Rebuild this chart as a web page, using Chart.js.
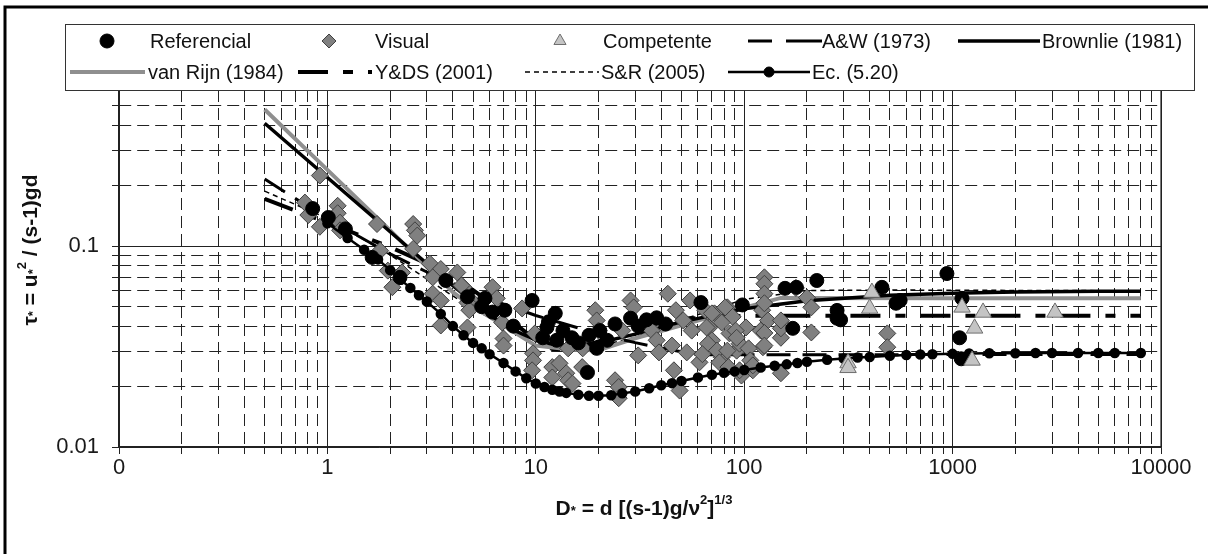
<!DOCTYPE html>
<html>
<head>
<meta charset="utf-8">
<script src="https://cdn.jsdelivr.net/npm/chart.js@4.4.1/dist/chart.umd.min.js"></script>
<style>
  body { margin: 0; background: #fff; }
  canvas { display: block; }
</style>
</head>
<body>
<canvas id="grafico" width="1208" height="554"></canvas>
<script>
// ejes
const xDecades = [0.1, 1, 10, 100, 1000, 10000];
const xDecadeLabels = ["0", "1", "10", "100", "1000", "10000"];
const yDecades = [0.01, 0.1];
const yDecadeLabels = ["0.01", "0.1"];

// Referencial (circulos negros)
const refX = [0.85, 1.01, 1.22, 1.64, 2.23, 3.7, 4.7, 5.5, 5.7, 6.2, 7.1, 7.8, 9.6, 10.8, 11.3, 12.4,
  12.6, 13.5, 14.9, 17.7, 19.6, 20.3, 24, 28.5, 34, 38, 62, 98, 157, 178, 171, 223, 279, 279, 290,
  458, 535, 560, 939, 1109, 1080, 1100, 11.5, 16, 18, 22, 31, 42];
const refY = [0.154, 0.139, 0.122, 0.088, 0.070, 0.0675, 0.056, 0.050, 0.055, 0.047, 0.048, 0.040,
  0.0537, 0.035, 0.0394, 0.0463, 0.034, 0.038, 0.035, 0.0235, 0.031, 0.038, 0.041, 0.0438, 0.043,
  0.044, 0.0524, 0.051, 0.0617, 0.0624, 0.039, 0.0675, 0.0479, 0.0438, 0.043, 0.0624, 0.052, 0.0537,
  0.0731, 0.055, 0.035, 0.0275, 0.042, 0.033, 0.036, 0.034, 0.040, 0.041];

// Visual (rombos grises)
const visX = [0.92, 0.78, 0.81, 0.92, 1.12, 1.12, 1.15, 1.15, 1.73, 2.58, 2.63, 2.7, 2.58, 1.79, 1.95,
  2.05, 2.28, 3.1, 3.5, 4.2, 3.2, 4.5, 4.9, 3.5, 4.7, 6.2, 6.5, 3.2, 3.5, 4.4, 4.7, 4.8, 6.9, 7.0, 7.0,
  8.6, 9.9, 9.7, 9.7, 9.6, 12, 12, 13, 14, 14.3, 15, 16.7, 14.3, 16.8, 19.3, 19.6, 20, 24, 25, 25, 26,
  28.5, 29.5, 31, 36, 38, 39, 43, 45, 46, 49, 47, 51, 53, 55, 56, 61, 65, 68, 70, 72, 78, 83, 85, 88,
  92, 95, 97, 102, 110, 120, 122, 125, 125, 125, 125, 130, 123, 150, 150, 150, 177, 200, 210, 150,
  210, 486, 486, 125, 125, 81, 78, 70, 66, 91, 92, 67, 74, 83, 105, 107, 76, 84, 95, 110, 63];
const visY = [0.225, 0.165, 0.143, 0.125, 0.159, 0.146, 0.131, 0.12, 0.129, 0.129, 0.120, 0.113, 0.097,
  0.095, 0.0756, 0.0625, 0.074, 0.082, 0.077, 0.074, 0.070, 0.0625, 0.0537, 0.0403, 0.0394, 0.0625,
  0.055, 0.058, 0.0537, 0.0638, 0.0524, 0.048, 0.0417, 0.0347, 0.032, 0.049, 0.0368, 0.0293, 0.027,
  0.0241, 0.025, 0.0222, 0.0261, 0.0233, 0.0215, 0.0207, 0.025, 0.031, 0.031, 0.048, 0.0427, 0.038,
  0.0215, 0.0199, 0.0175, 0.038, 0.0537, 0.0496, 0.0286, 0.038, 0.034, 0.0296, 0.058, 0.032, 0.0241,
  0.0191, 0.048, 0.0427, 0.0296, 0.0537, 0.038, 0.0264, 0.048, 0.0394, 0.034, 0.0463, 0.028, 0.0496,
  0.0368, 0.0445, 0.0302, 0.0327, 0.0227, 0.0394, 0.0241, 0.038, 0.048, 0.070, 0.065, 0.058, 0.052,
  0.0427, 0.0314, 0.0233, 0.035, 0.039, 0.062, 0.0555, 0.0496, 0.0427, 0.0372, 0.0368, 0.0314, 0.037,
  0.032, 0.0496, 0.0417, 0.0463, 0.0394, 0.038, 0.035, 0.0327, 0.0302, 0.0302, 0.031, 0.027, 0.0264,
  0.025, 0.0241, 0.0255, 0.029];

// Competente (triangulos)
const compX = [410, 400, 1110, 1400, 1275, 3100, 315, 315, 1240];
const compY = [0.0588, 0.049, 0.0496, 0.0468, 0.039, 0.0468, 0.0262, 0.0248, 0.027];

// curvas
const awX = [0.5, 1, 2, 3, 5, 7, 10, 20, 30, 40, 60, 8000];
const awY = [0.216, 0.137, 0.0916, 0.0744, 0.059, 0.0515, 0.0452, 0.0366, 0.0331, 0.0311, 0.0288, 0.0289];

const brX = [0.5, 1, 2, 3, 4, 5, 6, 7, 8, 10, 12, 15, 20, 30, 50, 100, 200, 500, 1000, 2000, 5000, 8000];
const brY = [0.41, 0.22, 0.118, 0.082, 0.0636, 0.0526, 0.0456, 0.041, 0.0378, 0.0341, 0.0325, 0.032,
  0.033, 0.0365, 0.042, 0.0488, 0.0535, 0.057, 0.0583, 0.0591, 0.0596, 0.0597];

const vrX = [0.5, 1, 2, 4, 5, 6, 8, 10, 15, 20, 30, 50, 80, 100, 150, 1000, 8000];
const vrY = [0.48, 0.24, 0.12, 0.059, 0.0498, 0.0445, 0.0369, 0.032, 0.0305, 0.0303, 0.0348, 0.0404,
  0.0464, 0.0494, 0.0553, 0.055, 0.055];

const ydsX = [0.5, 1, 2, 3, 4, 5, 6, 7, 8, 10, 12, 15, 20, 30, 50, 100, 8000];
const ydsY = [0.172, 0.131, 0.099, 0.082, 0.070, 0.0605, 0.0526, 0.0461, 0.0409, 0.034, 0.0308, 0.0303,
  0.0336, 0.0392, 0.0435, 0.045, 0.045];

const srX = [0.5, 1, 2, 3, 5, 10, 20, 30, 50, 100, 200, 500, 8000];
const srY = [0.188, 0.1376, 0.0906, 0.0687, 0.0486, 0.034, 0.0318, 0.0352, 0.0429, 0.0544, 0.0602, 0.0605, 0.06];

const ecX = [1, 1.25, 1.5, 1.75, 2, 2.25, 2.5, 2.75, 3, 3.5, 4, 4.5, 5, 5.5, 6, 7, 8, 9, 10, 11, 12, 13,
  14, 16, 18, 20, 23, 26, 30, 35, 40, 45, 50, 60, 70, 80, 90, 100, 120, 140, 160, 180, 200, 250, 300,
  350, 400, 500, 600, 700, 800, 1000, 1200, 1500, 2000, 2500, 3000, 4000, 5000, 6000, 8000];
const ecY = [0.13, 0.11, 0.096, 0.086, 0.076, 0.068, 0.062, 0.057, 0.053, 0.046, 0.040, 0.036, 0.033,
  0.031, 0.029, 0.0262, 0.0238, 0.022, 0.0207, 0.0199, 0.0193, 0.0189, 0.0186, 0.0182, 0.018, 0.018,
  0.0181, 0.0185, 0.0189, 0.0196, 0.0203, 0.0208, 0.0213, 0.0222, 0.0229, 0.0234, 0.0238, 0.0242,
  0.0249, 0.0254, 0.0258, 0.0262, 0.0266, 0.0272, 0.0276, 0.0279, 0.0281, 0.0285, 0.0287, 0.0289,
  0.029, 0.0291, 0.0292, 0.0293, 0.0293, 0.0294, 0.0294, 0.0294, 0.0294, 0.0294, 0.0294];

const pts = (xs, ys) => xs.map((x, i) => ({ x: x, y: ys[i] }));

function logTicks(decades, max) {
  let out = [];
  decades.forEach((d) => {
    for (let k = 1; k < 10; k++) {
      if (d * k > max * 1.0001) break;
      out.push({ value: d * k });
    }
  });
  return out;
}
function isMajor(v, decades) {
  return decades.some((d) => Math.abs(v / d - 1) < 1e-6);
}
function labelFor(v, decades, labels) {
  let i = decades.findIndex((d) => Math.abs(v / d - 1) < 1e-6);
  return i >= 0 ? labels[i] : "";
}

const FONT = "'Liberation Sans', Arial, sans-serif";

// posiciones de la leyenda: [inicio, fin, y, texto x]
const legendSlots = [
  [107, 107, 41, 150], [329, 329, 41, 375], [560, 560, 41, 603], [748, 822, 41, 822], [958, 1040, 41, 1042],
  [70, 145, 72, 148], [298, 372, 72, 375], [525, 599, 72, 601], [728, 810, 72, 812],
];

function drawRich(ctx, parts, cx, cy, size) {
  let widths = parts.map((p) => {
    ctx.font = "bold " + (p[1] ? size * 0.62 : size) + "px " + FONT;
    return ctx.measureText(p[0]).width;
  });
  let total = widths.reduce((a, b) => a + b, 0);
  let x = cx - total / 2;
  parts.forEach((p, i) => {
    ctx.font = "bold " + (p[1] ? size * 0.62 : size) + "px " + FONT;
    let dy = p[1] === "sup" ? -size * 0.42 : p[1] === "sub" ? size * 0.12 : 0;
    ctx.fillText(p[0], x, cy + dy);
    x += widths[i];
  });
}

const decorado = {
  id: "decorado",
  beforeDraw(chart) {
    const ctx = chart.ctx;
    ctx.save();
    ctx.fillStyle = "#fff";
    ctx.fillRect(0, 0, chart.width, chart.height);
    ctx.restore();
  },
  afterDraw(chart) {
    const ctx = chart.ctx;
    const a = chart.chartArea;
    ctx.save();
    ctx.setLineDash([]);
    ctx.strokeStyle = "#222";
    ctx.lineWidth = 1.2;
    ctx.strokeRect(a.left, a.top, a.right - a.left, a.bottom - a.top);

    // marco exterior
    ctx.strokeStyle = "#000";
    ctx.lineWidth = 3;
    ctx.beginPath();
    ctx.moveTo(5, chart.height);
    ctx.lineTo(5, 7);
    ctx.lineTo(chart.width, 7);
    ctx.stroke();

    // leyenda
    ctx.fillStyle = "#fff";
    ctx.fillRect(65, 24, 1129, 66);
    ctx.strokeStyle = "#333";
    ctx.lineWidth = 1;
    ctx.strokeRect(65.5, 24.5, 1129, 66);
    chart.data.datasets.forEach((ds, i) => {
      const s = legendSlots[i];
      ctx.save();
      if (ds.showLine) {
        ctx.strokeStyle = ds.borderColor;
        ctx.lineWidth = ds.borderWidth;
        ctx.setLineDash(ds.legendDash || ds.borderDash || []);
        ctx.beginPath();
        ctx.moveTo(s[0], s[2]);
        ctx.lineTo(s[1], s[2]);
        ctx.stroke();
        ctx.setLineDash([]);
      }
      if (ds.pointRadius > 0) {
        ctx.fillStyle = ds.backgroundColor;
        ctx.strokeStyle = ds.pointBorderColor || ds.borderColor;
        ctx.lineWidth = 1;
        Chart.helpers.drawPoint(ctx, {
          pointStyle: ds.pointStyle, rotation: 0, borderWidth: 1,
          radius: ds.showLine ? 5 : Math.min(ds.pointRadius, 7),
        }, (s[0] + s[1]) / 2, s[2]);
      }
      ctx.restore();
      ctx.fillStyle = "#111";
      ctx.font = "20px " + FONT;
      ctx.textBaseline = "middle";
      ctx.textAlign = "left";
      ctx.fillText(ds.label, s[3], s[2] + 1);
    });

    // titulos de ejes
    ctx.fillStyle = "#111";
    ctx.textBaseline = "middle";
    ctx.textAlign = "left";
    drawRich(ctx, [["D", ""], ["*", "sub"], [" = d [(s-1)g/\u03bd", ""], ["2", "sup"], ["]", ""], ["1/3", "sup"]], 644, 509, 21);
    ctx.translate(31, 250);
    ctx.rotate(-Math.PI / 2);
    drawRich(ctx, [["\u03c4", ""], ["*", "sub"], [" = u", ""], ["*", "sub"], ["2", "sup"], [" / (s-1)gd", ""]], 0, 0, 21);
    ctx.restore();
  },
};

const gridDash = (decades) => (ctx) =>
  ctx.tick && !isMajor(ctx.tick.value, decades) ? [12, 6] : [];

new Chart(document.getElementById("grafico"), {
  type: "scatter",
  data: {
    datasets: [
      { label: "Referencial", data: pts(refX, refY), pointStyle: "circle", pointRadius: 7,
        backgroundColor: "#000", borderColor: "#000", pointBorderColor: "#000", borderWidth: 1, order: 1 },
      { label: "Visual", data: pts(visX, visY), pointStyle: "rectRot", pointRadius: 8.5,
        backgroundColor: "#808080", borderColor: "#404040", pointBorderColor: "#404040", borderWidth: 1, order: 3 },
      { label: "Competente", data: pts(compX, compY), pointStyle: "triangle", pointRadius: 9.5,
        backgroundColor: "#c4c4c4", borderColor: "#6e6e6e", pointBorderColor: "#6e6e6e", borderWidth: 1, order: 0 },
      { label: "A&W (1973)", data: pts(awX, awY), showLine: true, pointRadius: 0, borderColor: "#000",
        borderWidth: 3, borderDash: [24, 12], legendDash: [24, 14, 40], order: 4 },
      { label: "Brownlie (1981)", data: pts(brX, brY), showLine: true, pointRadius: 0, borderColor: "#000",
        borderWidth: 3.5, order: 4 },
      { label: "van Rijn (1984)", data: pts(vrX, vrY), showLine: true, pointRadius: 0, borderColor: "#8f8f8f",
        borderWidth: 4, order: 4 },
      { label: "Y&DS (2001)", data: pts(ydsX, ydsY), showLine: true, pointRadius: 0, borderColor: "#000",
        borderWidth: 4, borderDash: [30, 15, 10, 15], order: 4 },
      { label: "S&R (2005)", data: pts(srX, srY), showLine: true, pointRadius: 0, borderColor: "#000",
        borderWidth: 1.5, borderDash: [5, 4], order: 4 },
      { label: "Ec. (5.20)", data: pts(ecX, ecY), showLine: true, pointStyle: "circle", pointRadius: 4,
        backgroundColor: "#000", borderColor: "#000", pointBorderColor: "#000", borderWidth: 2.5, order: 2 },
    ],
  },
  options: {
    responsive: false,
    animation: false,
    layout: { padding: { top: 90, right: 47, left: 0, bottom: 0 } },
    plugins: { legend: { display: false }, tooltip: { enabled: false } },
    elements: { line: { tension: 0 } },
    scales: {
      x: {
        type: "logarithmic",
        min: 0.1,
        max: 10000,
        afterBuildTicks: (s) => { s.ticks = logTicks(xDecades, 10000); },
        afterFit: (s) => { s.height = 107; },
        ticks: {
          autoSkip: false, maxRotation: 0, padding: 1, color: "#1a1a1a",
          font: { family: FONT, size: 22 },
          callback: (v) => labelFor(v, xDecades, xDecadeLabels),
        },
        grid: { color: "#222", lineWidth: 1, tickLength: 7, tickColor: "#222" },
        border: { display: true, color: "#222", width: 1.2, dash: gridDash(xDecades) },
      },
      y: {
        type: "logarithmic",
        min: 0.01,
        max: 0.6,
        afterBuildTicks: (s) => { s.ticks = logTicks(yDecades, 0.6); },
        afterFit: (s) => { s.width = 119; },
        ticks: {
          autoSkip: false, padding: 13, color: "#1a1a1a",
          font: { family: FONT, size: 22 },
          callback: (v) => labelFor(v, yDecades, yDecadeLabels),
        },
        grid: { color: "#222", lineWidth: 1, tickLength: 7, tickColor: "#222" },
        border: { display: true, color: "#222", width: 1.2, dash: gridDash(yDecades) },
      },
    },
  },
  plugins: [decorado],
});
</script>
</body>
</html>
